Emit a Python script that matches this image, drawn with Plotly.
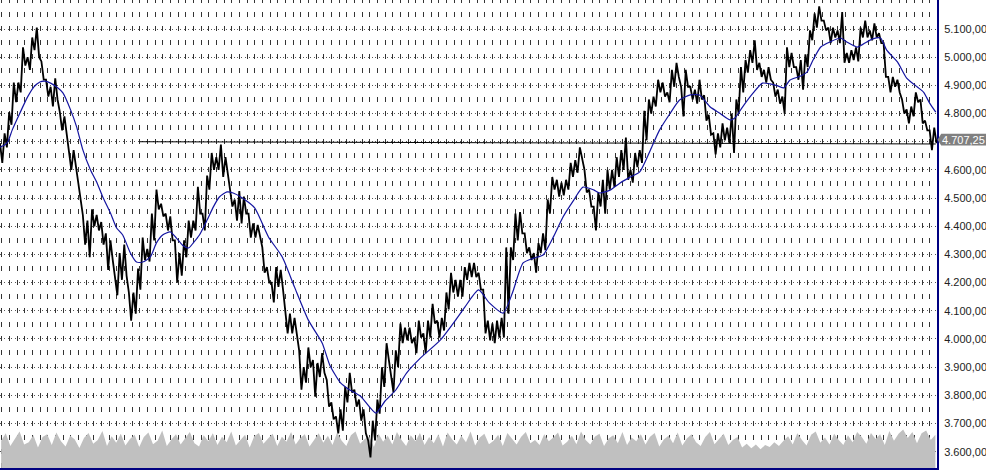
import plotly.graph_objects as go

# ---------------- data ----------------
bucket_days = 3          # each high/low pair covers 3 trading days
last_price = 4707.25
last_price_label = "4.707,25"
last_day = 610

price_high = [
    4695, 4730, 4805, 4910, 4910, 5035, 5000, 5070, 5105, 4985,
    4920, 4895, 4925, 4805, 4790, 4670, 4670, 4565, 4440, 4420,
    4460, 4440, 4415, 4375, 4350, 4220, 4305, 4335, 4165, 4165,
    4250, 4360, 4320, 4445, 4530, 4480, 4445, 4435, 4350, 4305,
    4350, 4420, 4420, 4540, 4445, 4580, 4660, 4645, 4690, 4645,
    4540, 4495, 4525, 4505, 4445, 4410, 4405, 4325, 4255, 4200,
    4255, 4245, 4090, 4090, 4075, 3960, 3900, 3970, 3925, 3915,
    3950, 3855, 3775, 3725, 3750, 3830, 3880, 3820, 3785, 3750,
    3640, 3710, 3785, 3900, 3985, 3870, 3960, 4055, 4040, 4040,
    4005, 4065, 4020, 4065, 4125, 4065, 4075, 4165, 4235, 4210,
    4210, 4255, 4270, 4270, 4235, 4175, 4065, 4055, 4065, 4075,
    4325, 4325, 4445, 4450, 4375, 4325, 4305, 4340, 4375, 4495,
    4575, 4565, 4555, 4565, 4625, 4635, 4680, 4600, 4530, 4470,
    4520, 4565, 4600, 4600, 4645, 4670, 4715, 4600, 4660, 4670,
    4810, 4850, 4860, 4920, 4910, 4875, 4955, 4980, 4895, 4955,
    4895, 4885, 4920, 4865, 4795, 4730, 4730, 4765, 4750, 4800,
    4850, 4965, 4990, 5025, 5060, 4980, 4955, 4965, 4910, 4885,
    4860, 5035, 5015, 4965, 4990, 5010, 5095, 5155, 5180, 5130,
    5105, 5105, 5095, 5160, 5015, 5025, 5035, 5105, 5130, 5095,
    5120, 5085, 5050, 4930, 4930, 4920, 4850, 4815, 4825, 4875,
    4850, 4775, 4740, 4750,
]

price_low = [
    4625, 4680, 4760, 4840, 4875, 4970, 4955, 5025, 5000, 4920,
    4860, 4825, 4850, 4740, 4730, 4600, 4610, 4495, 4335, 4290,
    4400, 4385, 4335, 4245, 4280, 4155, 4210, 4225, 4065, 4090,
    4175, 4280, 4275, 4350, 4460, 4435, 4385, 4350, 4200, 4225,
    4290, 4360, 4385, 4445, 4385, 4530, 4600, 4600, 4575, 4590,
    4470, 4420, 4410, 4445, 4360, 4360, 4360, 4235, 4200, 4130,
    4185, 4175, 4020, 4020, 4020, 3820, 3845, 3900, 3795, 3865,
    3880, 3760, 3715, 3665, 3675, 3775, 3810, 3760, 3710, 3665,
    3580, 3640, 3735, 3830, 3925, 3810, 3900, 3985, 3995, 3985,
    3950, 4005, 3950, 4005, 4055, 4005, 4030, 4105, 4165, 4150,
    4150, 4210, 4220, 4220, 4175, 4020, 3995, 3985, 4005, 4005,
    4090, 4280, 4350, 4375, 4305, 4280, 4235, 4305, 4315, 4445,
    4530, 4505, 4510, 4530, 4575, 4590, 4635, 4520, 4470, 4385,
    4470, 4445, 4530, 4540, 4575, 4600, 4565, 4555, 4610, 4625,
    4705, 4800, 4825, 4875, 4860, 4840, 4895, 4930, 4790, 4895,
    4850, 4835, 4850, 4775, 4725, 4655, 4680, 4705, 4695, 4660,
    4800, 4875, 4945, 4980, 4955, 4930, 4910, 4920, 4860, 4835,
    4800, 4965, 4965, 4920, 4885, 4965, 5060, 5105, 5130, 5095,
    5050, 5070, 5050, 4980, 4980, 4990, 4985, 5070, 5070, 5060,
    5070, 5050, 4930, 4875, 4895, 4875, 4800, 4765, 4790, 4840,
    4765, 4740, 4670, 4695,
]

ma_day = [
    0, 3, 5, 8, 13, 18, 22, 26, 29, 33, 37, 41, 46, 50, 54, 59, 63, 67, 72, 76,
    80, 85, 89, 93, 98, 102, 106, 111, 115, 119, 123, 126, 130, 135, 139, 143,
    148, 152, 158, 166, 175, 184, 192, 201, 210, 215, 222, 228, 235, 245, 251,
    258, 265, 274, 287, 297, 303, 312, 319, 328, 334, 341, 348, 354, 361, 367,
    374, 380, 387, 391, 398, 404, 411, 417, 424, 430, 437, 443, 450, 456, 463,
    469, 476, 479, 484, 491, 497, 502, 507, 511, 515, 522, 526, 530, 535, 541,
    548, 552, 559, 565, 569, 574, 578, 585, 591, 598, 602, 606, 610,
]
ma_value = [
    4681, 4688, 4699, 4742, 4802, 4859, 4894, 4912, 4915, 4908, 4894, 4873,
    4813, 4752, 4671, 4600, 4557, 4504, 4447, 4394, 4369, 4305, 4273, 4273,
    4291, 4341, 4369, 4380, 4358, 4333, 4323, 4341, 4369, 4422, 4468, 4504,
    4522, 4518, 4500, 4465, 4362, 4291, 4184, 4067, 3986, 3907, 3844, 3819,
    3797, 3737, 3780, 3819, 3879, 3932, 3996, 4067, 4113, 4174, 4128, 4092,
    4163, 4270, 4287, 4298, 4365, 4433, 4493, 4539, 4529, 4518, 4529, 4553,
    4575, 4593, 4671, 4742, 4802, 4848, 4866, 4866, 4823, 4802, 4777, 4784,
    4823, 4873, 4908, 4905, 4898, 4891, 4919, 4933, 4947, 4990, 5036, 5054,
    5068, 5054, 5036, 5054, 5065, 5068, 5025, 4983, 4926, 4894, 4876, 4837,
    4805,
]

volume_k = [
    58, 74, 47, 63, 78, 50, 55, 70, 44, 66,
    72, 49, 76, 57, 46, 69, 61, 43, 64, 75,
    52, 60, 79, 47, 68, 54, 73, 48, 62, 71,
    45, 66, 76, 51, 58, 80, 47, 61, 72, 50,
    64, 77, 53, 46, 70, 57, 74, 49, 67, 55,
    78, 48, 60, 71, 44, 68, 75, 52, 63, 73,
    47, 67, 56, 77, 50, 64, 72, 46, 60, 74,
    54, 69, 49, 76, 58, 47, 70, 78, 52, 62,
    67, 45, 73, 56, 69, 50, 77, 60, 47, 70,
    57, 75, 49, 66, 53, 72, 46, 76, 61, 50,
    69, 55, 78, 48, 65, 73, 51, 58, 71, 47,
    75, 62, 50, 67, 77, 53, 60, 49, 72, 57,
    65, 76, 48, 56, 69, 51, 78, 60, 50, 67,
    73, 47, 63, 70, 53, 77, 49, 65, 57, 72,
    50, 67, 75, 46, 61, 69, 53, 76, 48, 63,
    72, 55, 47, 66, 77, 51, 62, 73, 49, 60,
    66, 44, 52, 42, 50, 40, 49, 45, 55, 47,
    58, 68, 50, 74, 60, 48, 71, 78, 54, 65,
    50, 73, 60, 49, 70, 55, 77, 66, 52, 75,
    62, 72, 49, 79, 58, 73, 82, 64, 77, 53,
    74, 80, 60, 71,
]

trend_day = [91, 610]
trend_value = [4700, 4692]

y_ticks = [3600, 3700, 3800, 3900, 4000, 4100, 4200, 4300, 4400,
           4500, 4600, 4700, 4800, 4900, 5000, 5100]
y_tick_hidden = [4700]   # covered by the last-price marker


def de_format(v):
    s = f"{v:,.2f}"
    return s.replace(",", "#").replace(".", ",").replace("#", ".")


y_tick_text = ["" if v in y_tick_hidden else de_format(v) for v in y_ticks]

# ---------------- build traces ----------------
px_x, px_y = [], []
for i, (h, l) in enumerate(zip(price_high, price_low)):
    px_x += [i * bucket_days, i * bucket_days + bucket_days / 2]
    px_y += [h, l]
px_x.append(last_day)
px_y.append(last_price)

vol_x = [i * bucket_days + 0.75 for i in range(len(volume_k))]

fig = go.Figure()
fig.add_trace(go.Scatter(x=vol_x, y=volume_k, yaxis="y", mode="lines",
                         line=dict(width=0, color="#c0c0c0"),
                         fill="tozeroy", fillcolor="#c0c0c0", hoverinfo="skip"))
fig.add_trace(go.Scatter(x=trend_day, y=trend_value, yaxis="y2", mode="lines",
                         line=dict(color="#000000", width=1)))
fig.add_trace(go.Scatter(x=px_x, y=px_y, yaxis="y2", mode="lines",
                         line=dict(color="#000000", width=1.8)))
fig.add_trace(go.Scatter(x=ma_day, y=ma_value, yaxis="y2", mode="lines",
                         line=dict(color="#1414a0", width=1.2, shape="spline", smoothing=0.6)))

y_lo, y_hi = 3542.2, 5202.9

fig.update_layout(
    width=986, height=471,
    margin=dict(l=0, r=49, t=0, b=3, autoexpand=False),
    paper_bgcolor="white", plot_bgcolor="white",
    showlegend=False,
    font=dict(family="Liberation Sans, Arial, sans-serif", size=11, color="#222"),
    xaxis=dict(range=[0, 610.8], showticklabels=False, ticks="",
               showgrid=True, tick0=1.1, dtick=5, automargin=False,
               gridcolor="#333333", gridwidth=1, griddash="3px,9.09px,2px,0px",
               zeroline=False, showline=True, linecolor="#000080", linewidth=2),
    yaxis=dict(range=[0, 1000], visible=False, showgrid=False, zeroline=False,
               fixedrange=True),
    yaxis2=dict(overlaying="y", side="right", anchor="x", range=[y_lo, y_hi],
                tickmode="array", tickvals=y_ticks, ticktext=y_tick_text,
                automargin=False,
                showgrid=True, gridcolor="#555555", gridwidth=1, griddash="1px,2.83px",
                zeroline=False, showline=True, linecolor="#000080", linewidth=2,
                ticks="outside", ticklen=3, tickcolor="rgba(0,0,0,0)",
                tickfont=dict(size=11, color="#222")),
    shapes=[dict(type="path", xref="paper", yref="y2", layer="above",
                 path=f"M 1.0005,{last_price} L 1.0045,{last_price + 21} L 1.06,{last_price + 21} "
                      f"L 1.06,{last_price - 21} L 1.0045,{last_price - 21} Z",
                 fillcolor="#808080", line=dict(width=0))],
    annotations=[dict(xref="paper", yref="y2", x=1.0035, y=last_price,
                      xanchor="left", yanchor="middle", showarrow=False,
                      text=last_price_label, font=dict(size=11, color="white"))],
)

fig.write_html("out.html",
               config={"displayModeBar": False},
               post_script="document.body.style.margin='0';document.body.style.overflow='hidden';")
